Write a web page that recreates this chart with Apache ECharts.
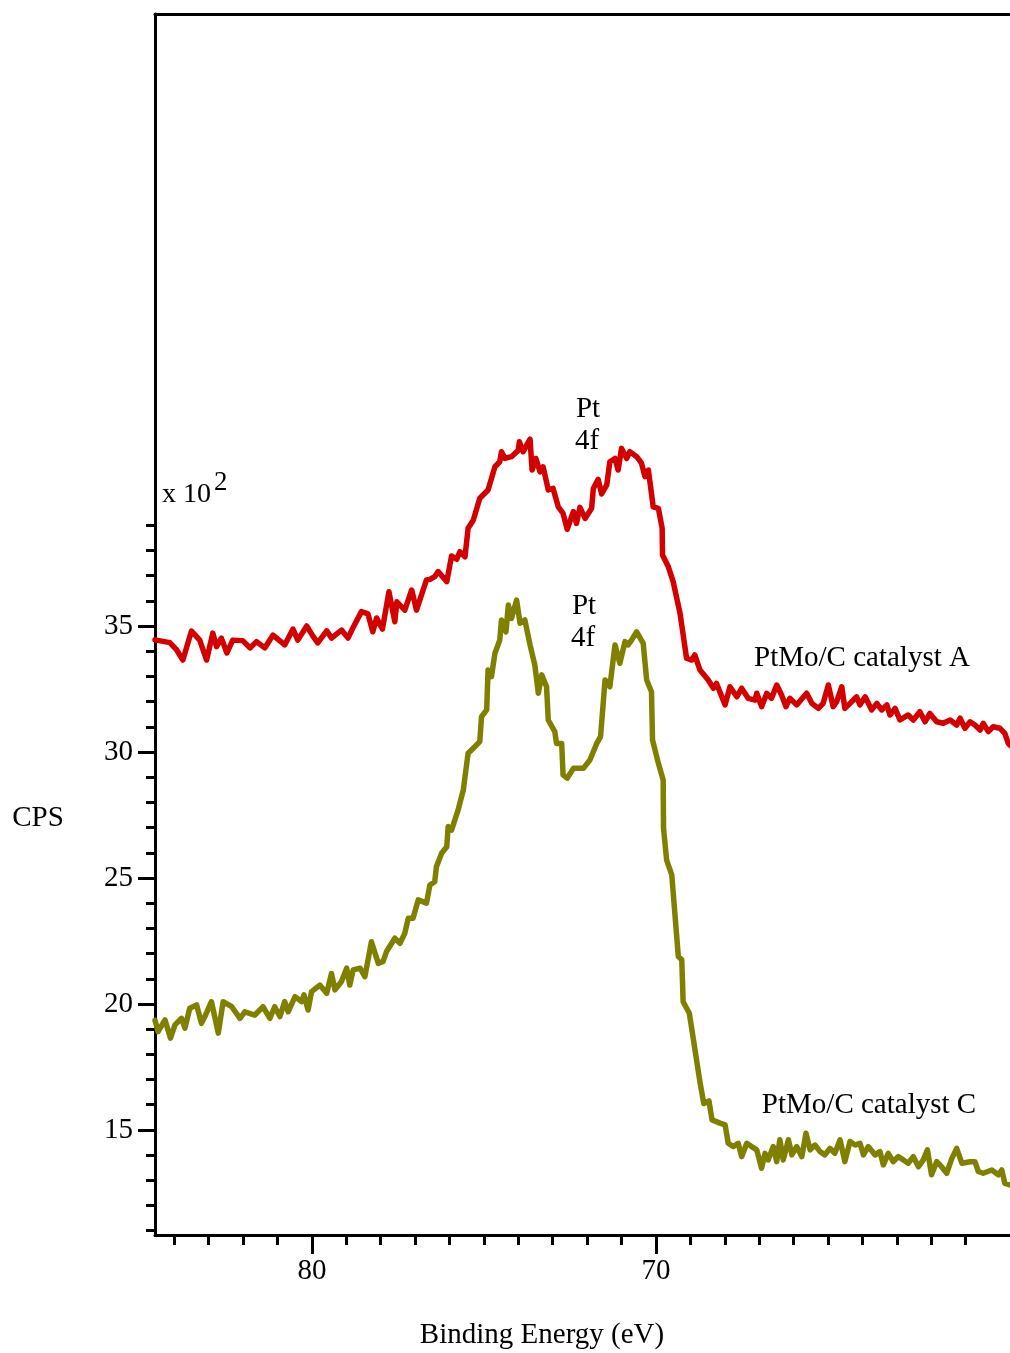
<!DOCTYPE html>
<html><head><meta charset="utf-8">
<script src="https://cdn.jsdelivr.net/npm/echarts@6/dist/echarts.min.js"></script>
<style>html,body{margin:0;padding:0;background:#fff}#c{width:1010px;height:1353px}</style>
</head><body><div id="c"></div>
<script>
// Binding energy (eV), CPS (x 10^2)
const catalystA = [
[84.56,34.45],[84.51,34.51],[84.13,34.34],[83.93,34.05],[83.75,33.65],[83.50,34.80],[83.26,34.44],[83.06,33.65],
[82.88,34.72],[82.77,34.18],[82.63,34.52],[82.47,33.93],[82.30,34.44],[82.01,34.42],[81.80,34.13],[81.61,34.38],
[81.37,34.13],[81.13,34.64],[80.79,34.25],[80.55,34.88],[80.41,34.44],[80.15,35.00],[79.97,34.60],[79.83,34.33],
[79.57,34.81],[79.43,34.52],[79.14,34.84],[78.95,34.52],[78.81,34.92],[78.56,35.57],[78.37,35.48],[78.23,34.77],
[78.12,35.32],[77.95,34.88],[77.76,36.36],[77.59,35.17],[77.53,35.96],[77.30,35.63],[77.10,36.43],[76.96,35.63],
[76.67,36.83],[76.57,36.85],[76.43,36.96],[76.33,37.16],[76.08,36.76],[75.94,37.78],[75.79,37.65],[75.70,37.95],
[75.55,37.75],[75.46,38.88],[75.31,39.20],[75.12,40.07],[74.88,40.40],[74.68,41.32],[74.54,41.52],[74.49,41.92],
[74.39,41.65],[74.20,41.72],[74.00,41.98],[73.97,42.31],[73.86,41.92],[73.66,42.42],[73.60,41.19],[73.49,41.65],
[73.37,41.12],[73.28,41.32],[73.13,40.40],[72.99,40.46],[72.84,39.73],[72.70,39.47],[72.58,38.84],[72.40,39.54],
[72.31,39.07],[72.21,39.71],[72.06,39.27],[71.87,39.67],[71.82,40.46],[71.68,40.82],[71.58,40.24],[71.43,40.60],
[71.34,41.52],[71.19,41.65],[71.10,41.19],[71.00,42.05],[70.85,41.65],[70.76,41.92],[70.56,41.72],[70.42,41.46],
[70.32,40.93],[70.22,41.19],[70.08,39.73],[69.93,39.67],[69.82,38.88],[69.81,37.82],[69.64,37.35],[69.50,36.76],
[69.30,35.50],[69.11,33.72],[68.96,33.65],[68.87,33.85],[68.72,33.25],[68.48,32.86],[68.33,32.53],[68.24,32.72],
[67.99,31.87],[67.85,32.59],[67.65,32.19],[67.51,32.53],[67.32,32.13],[67.12,32.06],[67.07,32.33],[66.93,31.80],
[66.78,32.33],[66.64,32.13],[66.49,32.66],[66.35,32.26],[66.22,31.80],[66.11,32.13],[65.91,31.87],[65.62,32.33],
[65.47,31.93],[65.28,31.73],[65.14,31.93],[64.99,32.66],[64.85,31.80],[64.75,31.99],[64.60,32.59],[64.51,31.73],
[64.36,31.93],[64.17,32.19],[64.07,31.87],[63.92,32.19],[63.73,31.67],[63.58,31.93],[63.44,31.67],[63.29,31.87],
[63.20,31.47],[63.05,31.73],[62.91,31.27],[62.67,31.47],[62.52,31.27],[62.33,31.60],[62.18,31.20],[62.04,31.53],
[61.84,31.20],[61.65,31.14],[61.45,31.27],[61.26,31.07],[61.16,31.34],[61.02,30.94],[60.87,31.20],[60.73,31.07],
[60.58,30.87],[60.49,31.14],[60.34,30.81],[60.20,31.00],[60.00,30.94],[59.86,30.74],[59.76,30.34],[59.65,30.20]
];
const catalystC = [
[84.56,19.35],[84.47,18.90],[84.27,19.37],[84.11,18.64],[83.98,19.17],[83.79,19.43],[83.69,19.04],[83.55,19.83],
[83.35,19.96],[83.21,19.23],[83.11,19.50],[82.92,20.09],[82.72,18.84],[82.58,20.09],[82.33,19.89],[82.09,19.43],
[81.95,19.69],[81.66,19.56],[81.42,19.89],[81.22,19.43],[81.08,19.89],[80.93,19.50],[80.79,20.09],[80.69,19.69],
[80.49,20.29],[80.30,20.09],[80.23,20.36],[80.11,19.76],[80.01,20.49],[79.77,20.75],[79.57,20.42],[79.43,21.21],
[79.33,20.56],[79.14,20.89],[78.99,21.42],[78.90,20.75],[78.80,21.35],[78.60,21.42],[78.46,21.08],[78.27,22.47],
[78.07,21.61],[77.93,21.69],[77.83,22.08],[77.59,22.61],[77.44,22.41],[77.30,22.80],[77.20,23.40],[77.06,23.40],
[76.91,24.13],[76.67,24.00],[76.57,24.72],[76.43,24.85],[76.38,25.45],[76.23,25.98],[76.08,26.24],[76.04,27.04],
[75.94,26.90],[75.75,27.70],[75.60,28.49],[75.46,29.95],[75.31,30.15],[75.12,30.41],[75.07,31.40],[74.92,31.67],
[74.88,33.25],[74.78,32.99],[74.68,33.92],[74.54,34.44],[74.49,35.24],[74.36,34.77],[74.29,35.83],[74.20,35.30],
[74.05,36.03],[73.95,35.11],[73.81,35.24],[73.66,34.25],[73.52,33.45],[73.42,32.33],[73.32,33.06],[73.18,32.59],
[73.13,31.27],[72.94,30.81],[72.89,30.34],[72.74,30.34],[72.70,29.09],[72.58,28.96],[72.40,29.35],[72.11,29.35],
[71.92,29.68],[71.72,30.34],[71.61,30.61],[71.48,32.86],[71.34,32.59],[71.19,34.25],[71.05,33.52],[70.90,34.38],
[70.81,34.25],[70.71,34.44],[70.56,34.77],[70.37,34.31],[70.27,32.86],[70.13,32.39],[70.10,30.48],[69.93,29.55],
[69.79,28.89],[69.78,26.97],[69.69,25.71],[69.54,25.12],[69.35,21.88],[69.25,21.75],[69.21,20.09],[69.03,19.63],
[68.72,16.90],[68.61,16.05],[68.46,16.15],[68.37,15.40],[68.14,15.27],[67.99,15.20],[67.90,14.47],[67.75,14.34],
[67.61,14.47],[67.51,13.94],[67.36,14.47],[67.22,14.34],[67.07,14.21],[66.93,13.48],[66.83,14.07],[66.74,13.81],
[66.59,14.34],[66.49,13.74],[66.40,14.61],[66.30,13.81],[66.15,14.61],[66.05,14.01],[65.91,14.34],[65.76,13.94],
[65.64,14.87],[65.52,14.21],[65.38,14.40],[65.23,14.14],[65.09,14.01],[64.94,14.27],[64.80,14.07],[64.65,14.61],
[64.51,13.74],[64.36,14.54],[64.21,14.40],[64.07,14.47],[63.97,14.01],[63.83,14.34],[63.63,14.01],[63.49,14.14],
[63.39,13.61],[63.25,14.07],[63.10,13.74],[62.96,13.94],[62.81,13.81],[62.67,13.68],[62.52,13.94],[62.37,13.54],
[62.23,13.81],[62.11,14.21],[61.99,13.22],[61.84,13.74],[61.70,13.54],[61.55,13.28],[61.40,13.87],[61.26,14.27],
[61.11,13.68],[60.87,13.74],[60.73,13.74],[60.63,13.35],[60.49,13.28],[60.24,13.41],[60.05,13.22],[59.95,13.41],
[59.86,12.88],[59.71,12.82],[59.60,12.80]
];
const xMajorTicks = [80, 70];
const xMinorTicks = [84,83,82,81,79,78,77,76,75,74,73,72,71,69,68,67,66,65,64,63,62,61];
const yMajorTicks = [15, 20, 25, 30, 35];
const yMinorTicks = [11,12,13,14,16,17,18,19,21,22,23,24,26,27,28,29,31,32,33,34,36,37,38,39];
const xRange = [59.71, 84.56];
const yRange = [10.83, 59.29];

const FONT = '"Liberation Serif", "Times New Roman", serif';
const black = '#000';
const baseX = {type:'value', inverse:true, min:xRange[0], max:xRange[1], splitLine:{show:false}};
const baseY = {type:'value', min:yRange[0], max:yRange[1], splitLine:{show:false}};
function txt(text, x, y, size, align) {
  return {type:'text', x:x, y:y, silent:true,
    style:{text:text, fill:black, fontFamily:FONT, fontSize:size||29, align:align||'center', verticalAlign:'middle'}};
}
const chart = echarts.init(document.getElementById('c'), null, {renderer:'canvas'});
chart.setOption({
  animation:false,
  backgroundColor:'#fff',
  grid:{left:155, right:0, top:14, bottom:118, containLabel:false},
  xAxis:[
    Object.assign({}, baseX, {position:'bottom',
      axisLine:{show:true, lineStyle:{color:black, width:3}},
      axisTick:{show:true, inside:false, length:10, lineStyle:{color:black, width:3}, customValues:xMinorTicks},
      axisLabel:{show:false}}),
    Object.assign({}, baseX, {position:'bottom', offset:0,
      axisLine:{show:false},
      axisTick:{show:true, inside:false, length:19, lineStyle:{color:black, width:3}, customValues:xMajorTicks},
      axisLabel:{show:true, customValues:xMajorTicks, margin:22, color:black, fontFamily:FONT, fontSize:29}}),
    Object.assign({}, baseX, {position:'top',
      axisLine:{show:true, lineStyle:{color:black, width:3}},
      axisTick:{show:false}, axisLabel:{show:false}})
  ],
  yAxis:[
    Object.assign({}, baseY, {position:'left',
      axisLine:{show:true, lineStyle:{color:black, width:3}},
      axisTick:{show:true, inside:false, length:9, lineStyle:{color:black, width:3}, customValues:yMinorTicks},
      axisLabel:{show:false}}),
    Object.assign({}, baseY, {position:'left', offset:0,
      axisLine:{show:false},
      axisTick:{show:true, inside:false, length:17, lineStyle:{color:black, width:3}, customValues:yMajorTicks},
      axisLabel:{show:true, customValues:yMajorTicks, margin:22, color:black, fontFamily:FONT, fontSize:29}})
  ],
  series:[
    {type:'line', name:'PtMo/C catalyst A', xAxisIndex:0, yAxisIndex:0, data:catalystA, symbol:'none', smooth:false,
     lineStyle:{color:'#d40000', width:5.5, join:'round', cap:'round'}},
    {type:'line', name:'PtMo/C catalyst C', xAxisIndex:0, yAxisIndex:0, data:catalystC, symbol:'none', smooth:false,
     lineStyle:{color:'#808000', width:5.5, join:'round', cap:'round'}}
  ],
  graphic:[
    txt('CPS', 38, 818),
    txt('Binding Energy (eV)', 542, 1335),
    txt('x 10', 162, 495, 28, 'left'),
    txt('2', 214, 483, 27, 'left'),
    txt('Pt', 588, 409),
    txt('4f', 587, 441),
    txt('Pt', 584, 606),
    txt('4f', 583, 638),
    txt('PtMo/C catalyst A', 862, 658),
    txt('PtMo/C catalyst C', 869, 1105)
  ]
});
</script></body></html>
